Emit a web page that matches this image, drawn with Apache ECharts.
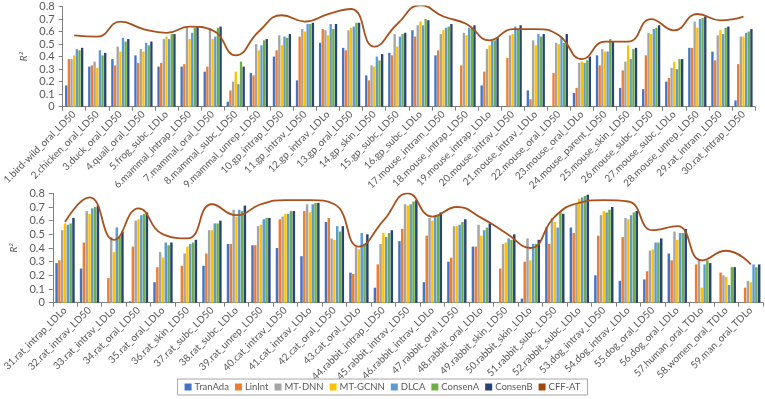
<!DOCTYPE html>
<html>
<head>
<meta charset="utf-8">
<script src="https://cdn.jsdelivr.net/npm/echarts@6/dist/echarts.min.js"></script>
<style>
  html, body { margin: 0; padding: 0; background: #fff; }
  #chart { width: 765px; height: 399px; }
</style>
</head>
<body>
<div id="chart"></div>
<script>
// categories (1-30 in top panel, 31-59 in bottom panel)
const categories = [
  '1.bird-wild_oral_LD50', '2.chicken_oral_LD50', '3.duck_oral_LD50', '4.quail_oral_LD50', '5.frog_subc_LDLo',
  '6.mammal_intrap_LD50', '7.mammal_oral_LD50', '8.mammal_subc_LD50', '9.mammal_unrep_LD50', '10.gp_intrap_LD50',
  '11.gp_intrav_LD50', '12.gp_intrav_LDLo', '13.gp_oral_LD50', '14.gp_skin_LD50', '15.gp_subc_LD50',
  '16.gp_subc_LDLo', '17.mouse_intram_LD50', '18.mouse_intrap_LD50', '19.mouse_intrap_LDLo', '20.mouse_intrav_LD50',
  '21.mouse_intrav_LDLo', '22.mouse_oral_LD50', '23.mouse_oral_LDLo', '24.mouse_parent_LD50', '25.mouse_skin_LD50',
  '26.mouse_subc_LD50', '27.mouse_subc_LDLo', '28.mouse_unrep_LD50', '29.rat_intram_LD50', '30.rat_intrap_LD50',
  '31.rat_intrap_LDLo', '32.rat_intrav_LD50', '33.rat_intrav_LDLo', '34.rat_oral_LD50', '35.rat_oral_LDLo',
  '36.rat_skin_LD50', '37.rat_subc_LD50', '38.rat_subc_LDLo', '39.rat_unrep_LD50', '40.cat_intrav_LD50',
  '41.cat_intrav_LDLo', '42.cat_oral_LD50', '43.cat_oral_LDLo', '44.rabbit_intrap_LD50', '45.rabbit_intrav_LD50',
  '46.rabbit_intrav_LDLo', '47.rabbit_oral_LD50', '48.rabbit_oral_LDLo', '49.rabbit_skin_LD50', '50.rabbit_skin_LDLo',
  '51.rabbit_subc_LD50', '52.rabbit_subc_LDLo', '53.dog_intrav_LD50', '54.dog_intrav_LDLo', '55.dog_oral_LD50',
  '56.dog_oral_LDLo', '57.human_oral_TDLo', '58.women_oral_TDLo', '59.man_oral_TDLo'
];
const splitAt = 30;

const yTicks = [0, 0.1, 0.2, 0.3, 0.4, 0.5, 0.6, 0.7, 0.8];

// R^2 per method, 59 values each
const tranAda = [0.17, 0.32, 0.38, 0.41, 0.32, 0.32, 0.28, 0.04, 0.27, 0.40, 0.21, 0.51, 0.47, 0.25, 0.43, 0.61, 0.41, 0, 0.17, 0, 0.13, 0, 0.11, 0.41, 0.15, 0.14, 0.20, 0.47, 0.44, 0.05,
  0.29, 0.25, 0, 0.01, 0.15, 0, 0.27, 0.43, 0.42, 0.40, 0.34, 0.59, 0.22, 0.11, 0.45, 0.15, 0.30, 0.41, 0, 0.03, 0.55, 0.55, 0.20, 0.16, 0.17, 0.36, 0, 0, 0];
const linInt = [0.38, 0.33, 0.33, 0.35, 0.35, 0.34, 0.32, 0.13, 0.25, 0.45, 0.56, 0.62, 0.45, 0.21, 0.41, 0.56, 0.45, 0.33, 0.28, 0.39, 0.06, 0.27, 0.15, 0.33, 0.29, 0.41, 0.23, 0.47, 0.37, 0.34,
  0.31, 0.44, 0.18, 0.41, 0.26, 0.27, 0.36, 0.43, 0.42, 0.61, 0.67, 0.62, 0.21, 0.28, 0.54, 0.49, 0.33, 0.41, 0.25, 0.30, 0.43, 0.51, 0.49, 0.48, 0.23, 0.31, 0.28, 0.22, 0.11];
const mtDnn = [0.38, 0.36, 0.48, 0.46, 0.54, 0.64, 0.63, 0.20, 0.50, 0.57, 0.62, 0.61, 0.61, 0.33, 0.58, 0.65, 0.58, 0.59, 0.46, 0.57, 0.53, 0.51, 0.35, 0.46, 0.36, 0.59, 0.31, 0.68, 0.57, 0.56,
  0.53, 0.67, 0.48, 0.60, 0.37, 0.36, 0.53, 0.68, 0.56, 0.63, 0.72, 0.47, 0.41, 0.43, 0.72, 0.62, 0.56, 0.57, 0.43, 0.47, 0.62, 0.72, 0.64, 0.62, 0.38, 0.52, 0.31, 0.20, 0.16];
const mtGcnn = [0.41, 0.31, 0.44, 0.44, 0.56, 0.54, 0.54, 0.28, 0.45, 0.49, 0.60, 0.57, 0.63, 0.32, 0.48, 0.68, 0.61, 0.57, 0.49, 0.58, 0.49, 0.50, 0.36, 0.44, 0.49, 0.58, 0.36, 0.63, 0.61, 0.56,
  0.58, 0.65, 0.37, 0.61, 0.33, 0.41, 0.53, 0.63, 0.57, 0.65, 0.66, 0.46, 0.39, 0.51, 0.71, 0.60, 0.56, 0.49, 0.44, 0.31, 0.59, 0.76, 0.67, 0.61, 0.39, 0.46, 0.11, 0.19, 0.15];
const dlca = [0.46, 0.45, 0.55, 0.51, 0.54, 0.59, 0.56, 0.18, 0.49, 0.56, 0.66, 0.66, 0.64, 0.40, 0.56, 0.65, 0.63, 0.63, 0.53, 0.64, 0.58, 0.55, 0.35, 0.44, 0.38, 0.62, 0.30, 0.70, 0.58, 0.59,
  0.57, 0.69, 0.55, 0.64, 0.44, 0.43, 0.58, 0.68, 0.61, 0.65, 0.72, 0.56, 0.51, 0.48, 0.72, 0.63, 0.57, 0.53, 0.47, 0.43, 0.55, 0.77, 0.66, 0.64, 0.44, 0.51, 0.28, 0.13, 0.28];
const consenA = [0.45, 0.41, 0.52, 0.49, 0.58, 0.63, 0.63, 0.36, 0.53, 0.55, 0.66, 0.62, 0.67, 0.37, 0.58, 0.70, 0.64, 0.63, 0.53, 0.62, 0.56, 0.51, 0.37, 0.54, 0.46, 0.63, 0.38, 0.71, 0.63, 0.60,
  0.58, 0.70, 0.48, 0.65, 0.42, 0.44, 0.58, 0.67, 0.62, 0.67, 0.73, 0.52, 0.43, 0.51, 0.74, 0.64, 0.59, 0.55, 0.46, 0.43, 0.66, 0.78, 0.68, 0.66, 0.44, 0.51, 0.31, 0.26, 0.26];
const consenB = [0.47, 0.43, 0.54, 0.52, 0.58, 0.64, 0.64, 0.32, 0.54, 0.58, 0.67, 0.66, 0.67, 0.42, 0.59, 0.69, 0.66, 0.65, 0.55, 0.65, 0.58, 0.58, 0.40, 0.52, 0.47, 0.65, 0.38, 0.72, 0.64, 0.62,
  0.62, 0.71, 0.52, 0.66, 0.44, 0.46, 0.60, 0.71, 0.62, 0.67, 0.73, 0.56, 0.50, 0.53, 0.75, 0.66, 0.61, 0.58, 0.50, 0.46, 0.65, 0.79, 0.70, 0.67, 0.47, 0.54, 0.29, 0.26, 0.28];
const cffAt = [0.57, 0.56, 0.68, 0.62, 0.59, 0.64, 0.61, 0.41, 0.60, 0.73, 0.68, 0.74, 0.78, 0.48, 0.66, 0.81, 0.72, 0.66, 0.53, 0.62, 0.62, 0.57, 0.38, 0.52, 0.52, 0.70, 0.61, 0.74, 0.69, 0.72,
  0.59, 0.77, 0.46, 0.69, 0.50, 0.47, 0.72, 0.64, 0.72, 0.75, 0.75, 0.72, 0.41, 0.60, 0.80, 0.63, 0.70, 0.62, 0.51, 0.40, 0.63, 0.73, 0.75, 0.74, 0.53, 0.56, 0.31, 0.38, 0.28];

const barMethods = [
  { name: 'TranAda', data: tranAda, color: '#4472C4' },
  { name: 'LinInt', data: linInt, color: '#ED7D31' },
  { name: 'MT-DNN', data: mtDnn, color: '#A5A5A5' },
  { name: 'MT-GCNN', data: mtGcnn, color: '#FFC000' },
  { name: 'DLCA', data: dlca, color: '#5B9BD5' },
  { name: 'ConsenA', data: consenA, color: '#70AD47' },
  { name: 'ConsenB', data: consenB, color: '#264478' }
];
const lineColor = '#A8511C';

const FONT = 'Lato';
const TEXT = '#595959';
const AXIS = '#7F7F7F';

const panels = [
  { from: 0, to: splitAt, grid: { left: 50, right: 10, top: 6.5, bottom: 292.3 } },
  { from: splitAt, to: categories.length, grid: { left: 50, right: 2, top: 193.3, bottom: 96.3 } }
];

const chart = echarts.init(document.getElementById('chart'));

const series = [];
panels.forEach((p, i) => {
  barMethods.forEach(m => {
    series.push({
      name: m.name,
      type: 'bar',
      xAxisIndex: i,
      yAxisIndex: i,
      data: m.data.slice(p.from, p.to),
      itemStyle: { color: m.color },
      barGap: '14%',
      barCategoryGap: '21%',
      silent: true
    });
  });
  series.push({
    name: 'CFF-AT',
    type: 'line',
    xAxisIndex: i,
    yAxisIndex: i,
    data: cffAt.slice(p.from, p.to),
    smooth: 0.5,
    showSymbol: false,
    symbol: 'none',
    itemStyle: { color: '#9E480E' },
    lineStyle: { color: lineColor, width: 1.8 },
    z: 5,
    silent: true
  });
});

const option = {
  animation: false,
  textStyle: { fontFamily: FONT },
  grid: panels.map(p => p.grid),
  xAxis: panels.map((p, i) => ({
    type: 'category',
    gridIndex: i,
    data: categories.slice(p.from, p.to),
    axisLine: { lineStyle: { color: AXIS, width: 1 } },
    axisTick: { show: true, length: 4, lineStyle: { color: AXIS } },
    axisLabel: {
      interval: 0,
      rotate: 45,
      fontSize: 10,
      color: TEXT,
      fontFamily: FONT,
      margin: 6
    },
    splitLine: { show: false }
  })),
  yAxis: panels.map((p, i) => ({
    type: 'value',
    gridIndex: i,
    min: yTicks[0],
    max: yTicks[yTicks.length - 1],
    interval: 0.1,
    name: 'R²',
    nameLocation: 'middle',
    nameRotate: 90,
    nameGap: 25,
    nameTextStyle: { fontStyle: 'italic', fontSize: 10, color: TEXT, fontFamily: FONT },
    axisLine: { show: true, lineStyle: { color: AXIS } },
    axisTick: { show: true, length: 4, lineStyle: { color: AXIS } },
    axisLabel: { fontSize: 11, color: TEXT, fontFamily: FONT, margin: 8 },
    splitLine: { show: false }
  })),
  legend: {
    data: barMethods.map(m => m.name).concat(['CFF-AT']),
    left: 'center',
    top: 379,
    icon: 'rect',
    itemWidth: 7,
    itemHeight: 7,
    itemGap: 6,
    padding: [3, 7],
    borderColor: '#A6A6A6',
    borderWidth: 1,
    textStyle: { fontSize: 9.5, color: TEXT, fontFamily: FONT, padding: [0, 0, 0, -2] }
  },
  series: series
};

chart.setOption(option);
</script>
</body>
</html>
